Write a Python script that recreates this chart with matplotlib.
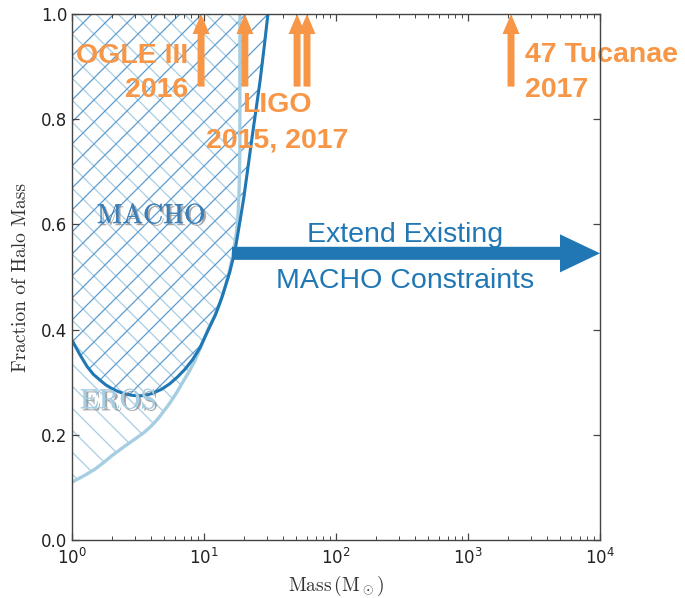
import numpy as np
import matplotlib
matplotlib.use("Agg")
import matplotlib.pyplot as plt
import matplotlib.patheffects as pe
from matplotlib.patches import Polygon
from matplotlib.collections import LineCollection
from matplotlib.ticker import FormatStrFormatter

# ---------------- data ----------------
macho_mass = [1.0, 1.15, 1.3, 1.45, 1.63, 1.8, 2.0, 2.25, 2.5, 2.85, 3.2, 3.6, 4.1, 4.8,
              5.5, 6.3, 7.2, 8.2, 9.3, 10.8, 12.2, 13.7, 15.7, 17.2, 18.7, 20.0, 21.2,
              23.5, 25.0, 26.6, 28.5, 30.5]
macho_frac = [0.38, 0.352, 0.33, 0.315, 0.304, 0.295, 0.288, 0.282, 0.278, 0.275, 0.274,
              0.275, 0.279, 0.287, 0.297, 0.31, 0.325, 0.343, 0.365, 0.40, 0.428, 0.462,
              0.51, 0.551, 0.605, 0.65, 0.696, 0.778, 0.825, 0.873, 0.935, 1.0]

eros_mass = [1.0, 1.25, 1.5, 1.75, 2.0, 2.5, 3.0, 3.5, 4.0, 4.5, 5.5, 6.2, 6.9, 7.7, 8.5,
             9.5, 10.7, 12.0, 13.2, 14.2, 15.2, 16.0, 16.5, 17.0, 17.5, 17.9, 18.2,
             18.45, 18.6, 18.7, 18.7]
eros_frac = [0.11, 0.123, 0.135, 0.148, 0.16, 0.178, 0.192, 0.204, 0.217, 0.231, 0.26,
             0.28, 0.30, 0.32, 0.34, 0.368, 0.40, 0.425, 0.45, 0.475, 0.50, 0.525, 0.54,
             0.56, 0.58, 0.60, 0.63, 0.665, 0.70, 0.75, 1.0]

arrow_mass = [9.5, 20.4, 50.7, 60.3, 2118]
arrow_base = 0.862

orange = "#f79646"
dark_blue = "#1f77b4"
light_blue = "#a6cee3"

fig = plt.figure(figsize=(6.85, 5.98), dpi=100)
ax = fig.add_axes([72 / 685, 1 - 540 / 598, 528 / 685, 526 / 598])
ax.set_xscale("log")
ax.set_xlim(1, 1e4)
ax.set_ylim(0, 1.0)

# hatched regions (drawn as clipped diagonal line sets)
eros_poly = Polygon(list(zip(eros_mass, eros_frac)) + [(1.0, 1.0)], closed=True,
                    transform=ax.transData, fill=False, lw=0)
macho_poly = Polygon(list(zip(macho_mass, macho_frac)) + [(1.0, 1.0)], closed=True,
                     transform=ax.transData, fill=False, lw=0)
ax.add_patch(eros_poly)
ax.add_patch(macho_poly)

step = 22.0 / 528.0
ratio = 528.0 / 526.0
offs = np.arange(-2.0, 3.0, step)
back_segs = [[(c, 0.0), (c - 1.0, ratio)] for c in offs]    # "\" direction
fwd_segs = [[(c, 0.0), (c + 1.0, ratio)] for c in offs]     # "/" direction
lc_e = LineCollection(back_segs, colors=light_blue, linewidths=0.9,
                      transform=ax.transAxes, zorder=1)
lc_e.set_clip_path(eros_poly)
ax.add_collection(lc_e, autolim=False)
lc_m = LineCollection(fwd_segs, colors="#5a9bd0", linewidths=0.9,
                      transform=ax.transAxes, zorder=1.5)
lc_m.set_clip_path(macho_poly)
ax.add_collection(lc_m, autolim=False)

# curves
ax.plot(eros_mass, eros_frac, color=light_blue, lw=2.4, zorder=3)
ax.plot(macho_mass, macho_frac, color=dark_blue, lw=2.2, zorder=4)

# labels in regions
shadow = [pe.withSimplePatchShadow(offset=(1.5, -1.5), shadow_rgbFace="gray", alpha=0.7),
          pe.Normal()]
ax.text(3.97, 0.616, "MACHO", fontfamily="cmr10", fontsize=20, color="#3a7fb8",
        ha="center", va="center", path_effects=shadow, zorder=6)
ax.text(2.23, 0.264, "EROS", fontfamily="cmr10", fontsize=20, color=light_blue,
        ha="center", va="center", path_effects=shadow, zorder=6)

# orange arrows
for m in arrow_mass:
    ax.annotate("", xy=(m, 1.0), xytext=(m, arrow_base),
                arrowprops=dict(arrowstyle="simple,head_length=1.44,head_width=1.22,tail_width=0.5",
                                mutation_scale=10, fc=orange, ec="none", lw=0,
                                shrinkA=0, shrinkB=0), zorder=7)

tfont = dict(fontfamily="Liberation Sans", fontweight="bold", fontsize=20.5, color=orange,
             va="baseline", zorder=8)
ax.text(7.57, 0.907, "OGLE III", ha="right", **tfont)
ax.text(7.57, 0.842, "2016", ha="right", **tfont)
ax.text(35.7, 0.814, "LIGO", ha="center", **tfont)
ax.text(35.7, 0.746, "2015, 2017", ha="center", **tfont)
ax.text(2704, 0.909, "47 Tucanae", ha="left", clip_on=False, **tfont)
ax.text(2704, 0.842, "2017", ha="left", **tfont)

# big blue arrow
ax.annotate("", xy=(1e4, 0.545), xytext=(16.3, 0.545), annotation_clip=False,
            arrowprops=dict(arrowstyle="simple,head_length=2.88,head_width=2.74,tail_width=0.94",
                            mutation_scale=10, fc="#2077b4", ec="none", lw=0,
                            shrinkA=0, shrinkB=0), zorder=7)
bfont = dict(fontfamily="Liberation Sans", fontsize=20.5, color="#2077b4",
             ha="center", va="baseline", zorder=8)
ax.text(333, 0.567, "Extend Existing", **bfont)
ax.text(333, 0.479, "MACHO Constraints", **bfont)

# axes styling
for s in ax.spines.values():
    s.set_color("#444444")
    s.set_linewidth(1.0)
    s.set_zorder(9)
ax.tick_params(which="both", direction="in", top=True, right=True, colors="#444444",
               labelcolor="#222222", labelsize=12)
ax.tick_params(which="major", length=5, width=0.9)
ax.tick_params(which="minor", length=3, width=0.7)
ax.set_yticks([0.0, 0.2, 0.4, 0.6, 0.8, 1.0])
ax.yaxis.set_major_formatter(FormatStrFormatter("%.1f"))
ax.tick_params(axis="x", pad=6)

ax.set_ylabel("Fraction of Halo Mass", fontfamily="cmr10", fontsize=14, color="#333333",
              labelpad=8)
ax.set_xlabel(r"$\mathrm{Mass}\,(\mathrm{M}_\odot)$", math_fontfamily="cm", fontsize=14,
              color="#333333", labelpad=4)

fig.savefig("out.png", dpi=100)
